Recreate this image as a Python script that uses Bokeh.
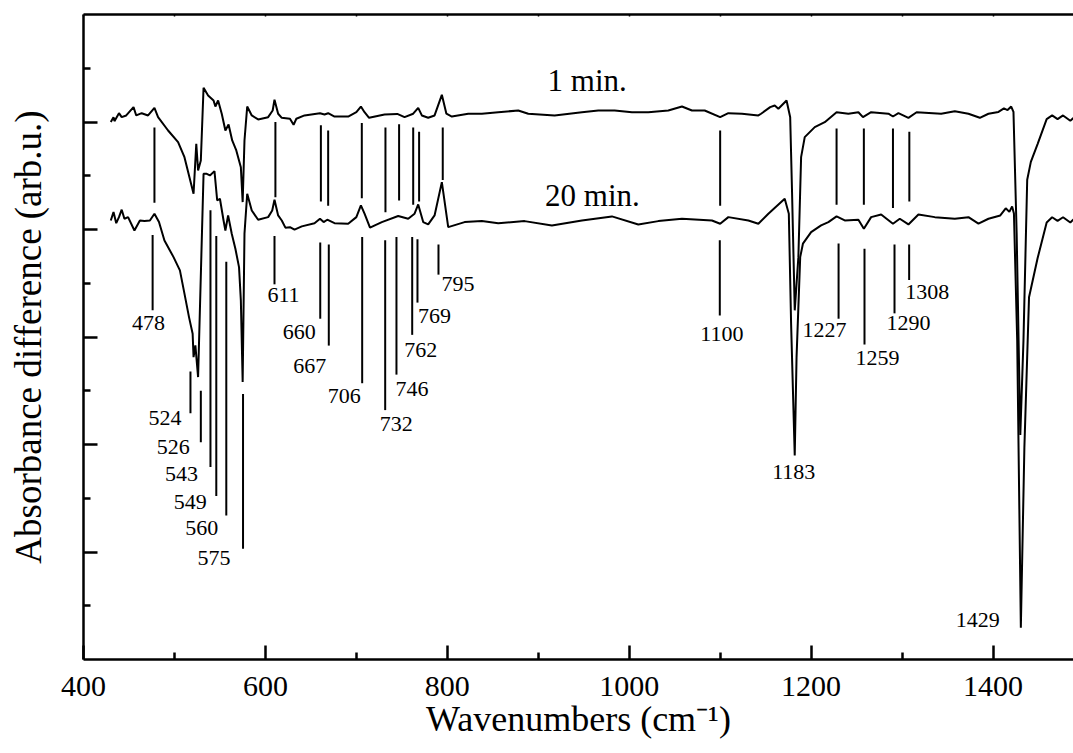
from bokeh.plotting import figure
from bokeh.models import Range1d, FixedTicker, LinearAxis, ColumnDataSource
from bokeh.embed import file_html
from bokeh.resources import INLINE
from bokeh.core.properties import value

# ---------------- data ----------------
wn_1min = [430, 433, 434, 439, 442, 447, 455, 458, 464, 471, 478, 482, 493, 504, 511, 521, 524, 526, 529,
           532, 537, 543, 545, 548, 552, 556, 559.5, 563.5, 568, 573, 575, 577, 580, 585, 592, 603, 608,
           610, 614, 618, 627, 631, 634, 643, 660, 665, 669, 676, 691, 700, 705, 709, 714, 731, 745, 753,
           762.5, 768, 772, 779, 786, 794, 799, 805, 823, 838, 856, 878, 889, 918, 948, 966, 984, 1003,
           1021, 1043, 1058, 1069, 1083, 1100, 1109, 1124, 1142, 1145, 1155, 1160, 1164, 1173, 1177,
           1179, 1182, 1186, 1189, 1193, 1204, 1215, 1228, 1241, 1252, 1257, 1266, 1285, 1290, 1296,
           1307, 1316, 1343, 1358, 1373, 1385.5, 1395, 1406, 1412, 1416, 1420, 1422.5, 1426, 1430,
           1433.5, 1437.6, 1441.6, 1449, 1459, 1465, 1471, 1477, 1485, 1495]
abs_1min = [5.00, 5.045, 5.008, 5.082, 5.045, 5.061, 5.138, 5.061, 5.082, 5.061, 5.132, 5.045, 4.921,
            4.813, 4.673, 4.333, 4.798, 4.549, 4.642, 5.318, 5.247, 5.200, 5.144, 5.200, 5.077, 4.921,
            4.977, 4.828, 4.735, 4.580, 4.255, 4.828, 5.144, 5.061, 5.024, 5.045, 5.107, 5.207, 5.077,
            5.039, 5.030, 4.974, 5.030, 5.061, 5.082, 5.070, 5.082, 5.051, 5.051, 5.091, 5.144, 5.091,
            5.039, 5.070, 5.075, 5.045, 5.077, 5.132, 5.061, 5.039, 5.061, 5.253, 5.077, 5.051, 5.077,
            5.077, 5.091, 5.107, 5.077, 5.061, 5.091, 5.107, 5.107, 5.091, 5.091, 5.107, 5.144, 5.107,
            5.107, 5.045, 5.082, 5.077, 5.061, 5.077, 5.138, 5.154, 5.123, 5.200, 5.045, 4.363, 3.248,
            3.743, 4.673, 4.859, 4.952, 4.998, 5.091, 5.077, 5.091, 5.045, 5.091, 5.077, 5.051, 5.082,
            5.039, 5.091, 5.077, 5.101, 5.077, 5.039, 5.077, 5.094, 5.127, 5.111, 5.144, 5.094, 3.965,
            2.089, 2.969, 4.463, 4.629, 4.795, 5.027, 5.061, 5.027, 5.061, 5.011, 5.089]

wn_20min = [430, 433, 436, 439, 442, 445, 449, 456, 462, 467, 473, 478, 483, 489, 499, 506, 511, 516, 520,
            521, 523, 526, 532, 535, 539, 544, 547, 550, 554, 556, 559, 563, 567, 571, 573, 575, 577, 580,
            585, 592, 603, 607.5, 610, 614, 618, 622, 627, 632, 640, 654, 660, 664, 668, 676, 691, 700,
            705, 709, 715, 728, 746, 757, 764, 768, 773.5, 779, 786, 794, 801, 819, 838, 856, 885, 915,
            948, 981, 1010, 1032, 1058, 1091, 1100, 1109, 1131, 1142, 1153, 1171, 1175.5, 1178, 1182,
            1184, 1188, 1191, 1200, 1211, 1219, 1228, 1237, 1252, 1258, 1266, 1277, 1290, 1297.5, 1307,
            1318, 1336, 1358, 1373, 1384, 1395, 1408, 1414, 1418, 1421, 1423, 1426.6, 1430.6, 1434.5,
            1439.6, 1449, 1459, 1465, 1471, 1477, 1485, 1493]
abs_20min = [4.084, 4.162, 4.059, 4.115, 4.184, 4.100, 4.115, 3.991, 4.084, 4.078, 4.084, 4.147, 4.069,
             3.898, 3.743, 3.620, 3.403, 3.185, 3.031, 2.813, 2.922, 2.627, 4.519, 4.519, 4.503, 4.543,
             4.270, 4.286, 4.084, 3.991, 4.131, 3.961, 3.821, 3.650, 3.341, 2.581, 3.961, 4.333, 4.177,
             4.091, 4.115, 4.177, 4.277, 4.131, 4.084, 4.017, 4.022, 3.998, 4.029, 4.059, 4.100, 4.069,
             4.091, 4.059, 4.054, 4.115, 4.224, 4.147, 4.017, 4.069, 4.126, 4.100, 4.147, 4.233, 4.069,
             4.047, 4.131, 4.441, 4.022, 4.069, 4.078, 4.059, 4.078, 4.038, 4.084, 4.122, 4.047, 4.078,
             4.100, 4.084, 4.054, 4.115, 4.084, 4.054, 4.147, 4.286, 4.147, 3.124, 1.899, 2.813, 3.743,
             3.868, 3.976, 4.038, 4.069, 4.122, 4.084, 4.091, 4.007, 4.115, 4.140, 4.054, 4.100, 4.047,
             4.140, 4.115, 4.100, 4.115, 4.054, 4.100, 4.131, 4.197, 4.164, 4.215, 4.148, 2.969, 0.296,
             1.974, 3.369, 3.732, 4.066, 4.114, 4.081, 4.114, 4.065, 4.131]

# band markers between the two spectra (1 min)
upper_pos = [478, 611, 661, 669, 706, 732, 747, 762.5, 769, 795, 1100, 1228, 1258, 1290, 1308]
upper_top = [4.95, 5.00, 4.97, 4.92, 4.99, 4.95, 4.98, 4.95, 4.91, 4.95, 4.92, 4.94, 4.94, 4.94, 4.91]
upper_bot = [4.25, 4.30, 4.26, 4.22, 4.29, 4.16, 4.27, 4.23, 4.26, 4.46, 4.22, 4.23, 4.23, 4.20, 4.26]

# band markers below the 20 min spectrum, with their labels
band_labels = ["478", "524", "526", "543", "549", "560", "575", "611", "660", "667", "706", "732",
               "746", "762", "769", "795", "1100", "1227", "1259", "1290", "1308"]
lower_pos = [476, 517.6, 529, 539.6, 546, 557, 575.4, 610, 660.3, 669.7, 706.4, 731.7, 744.1, 761.4,
             767.2, 790.3, 1099.6, 1230.2, 1258.7, 1291.7, 1307.8]
lower_top = [3.95, 2.68, 2.50, 4.18, 3.94, 3.70, 2.47, 3.94, 3.88, 3.86, 3.93, 3.90, 3.93, 3.93, 3.91,
             3.86, 3.90, 3.87, 3.82, 3.86, 3.86]
lower_bot = [3.25, 2.29, 2.02, 1.79, 1.52, 1.34, 1.03, 3.49, 3.17, 2.92, 2.57, 2.32, 2.65, 3.02, 3.32,
             3.58, 3.20, 3.17, 2.93, 3.22, 3.53]
label_dx = [-4, -25.5, -27.5, -29, -26, -24.5, -29, 9, -21, -19, -18, 11, 15.5, 8.5, 17, 19.5, 2, -14,
            13, 14, 18]
label_dy = [13, 5, 5, 7, 6, 13, 9, 11, 13, 20, 13, 14, 14, 15, 13, 9, 18, 11, 13, 10, 12]

# labelled strong bands at the tips of the 20 min spectrum
tip_labels = ["1183", "1429"]
tip_wn = [1182, 1430.6]
tip_dx = [-1, -43]
tip_dy = [17, -8]

series_names = ["1 min.", "20 min."]
series_label_wn = [953.8, 959.6]
series_label_y = [5.386, 4.317]

x_major = [400, 600, 800, 1000, 1200, 1400]
x_minor = [500, 700, 900, 1100, 1300]
y_major = [1, 2, 3, 4, 5]
y_minor = [0.5, 1.5, 2.5, 3.5, 4.5, 5.5]

FONT = "Liberation Serif"

p = figure(width=1073, height=753, output_backend="svg", toolbar_location=None,
           x_range=Range1d(400, 1488.5), y_range=Range1d(0, 6),
           min_border_left=83, min_border_right=0, min_border_top=14, min_border_bottom=94,
           background_fill_color="white", border_fill_color="white")
p.outline_line_color = None
p.xgrid.visible = False
p.ygrid.visible = False

# bottom axis
xa = p.xaxis[0]
xa.ticker = FixedTicker(ticks=x_major, minor_ticks=x_minor)
xa.major_tick_in = 14
xa.major_tick_out = 0
xa.minor_tick_in = 7
xa.minor_tick_out = 0
xa.axis_line_width = 2.5
xa.major_tick_line_width = 2.5
xa.minor_tick_line_width = 2.5
xa.major_label_text_font = FONT
xa.major_label_text_font_size = "30px"
xa.major_label_text_color = "black"
xa.major_label_standoff = 17
xa.axis_label = "Wavenumbers (cm\u207b\u00b9)"
xa.axis_label_text_font = FONT
xa.axis_label_text_font_size = "36px"
xa.axis_label_text_font_style = "normal"
xa.axis_label_text_color = "black"
xa.axis_label_standoff = 0

# left axis
ya = p.yaxis[0]
ya.ticker = FixedTicker(ticks=y_major, minor_ticks=y_minor)
ya.major_tick_in = 14
ya.major_tick_out = 0
ya.minor_tick_in = 7
ya.minor_tick_out = 0
ya.axis_line_width = 2.5
ya.major_tick_line_width = 2.5
ya.minor_tick_line_width = 2.5
ya.major_label_overrides = {t: "" for t in y_major}
ya.major_label_text_font_size = "0px"
ya.major_label_standoff = 0
ya.axis_label = "Absorbance difference (arb.u.)"
ya.axis_label_text_font = FONT
ya.axis_label_text_font_size = "37px"
ya.axis_label_text_font_style = "normal"
ya.axis_label_text_color = "black"
ya.axis_label_standoff = 35

# top frame line with small ticks
top = LinearAxis(ticker=FixedTicker(ticks=x_major + x_minor), major_tick_in=2, major_tick_out=0,
                 minor_tick_in=0, minor_tick_out=0, axis_line_width=2.5, major_tick_line_width=1.5,
                 major_label_text_font_size="0px", major_label_standoff=0)
top.major_label_overrides = {t: "" for t in x_major + x_minor}
p.add_layout(top, "above")

# spectra
p.line(wn_1min, abs_1min, line_color="black", line_width=2)
p.line(wn_20min, abs_20min, line_color="black", line_width=2)

# marker lines
p.segment(x0=upper_pos, y0=upper_top, x1=upper_pos, y1=upper_bot, line_color="black", line_width=2)
p.segment(x0=lower_pos, y0=lower_top, x1=lower_pos, y1=lower_bot, line_color="black", line_width=2)

# band labels
lab_src = ColumnDataSource(dict(x=lower_pos, y=lower_bot, t=band_labels, dx=label_dx, dy=label_dy))
p.text(x="x", y="y", text="t", x_offset="dx", y_offset="dy", source=lab_src,
       text_font=value(FONT), text_font_size="22px", text_align="center",
       text_baseline="middle", text_color="black")

tip_y = [abs_20min[wn_20min.index(w)] for w in tip_wn]
tip_src = ColumnDataSource(dict(x=tip_wn, y=tip_y, t=tip_labels, dx=tip_dx, dy=tip_dy))
p.text(x="x", y="y", text="t", x_offset="dx", y_offset="dy", source=tip_src,
       text_font=value(FONT), text_font_size="22px", text_align="center",
       text_baseline="middle", text_color="black")

# series names
p.text(x=series_label_wn, y=series_label_y, text=series_names, text_font=value(FONT),
       text_font_size="31px", text_align="center", text_baseline="middle", text_color="black")

open("out.html", "w").write(file_html(p, INLINE))
